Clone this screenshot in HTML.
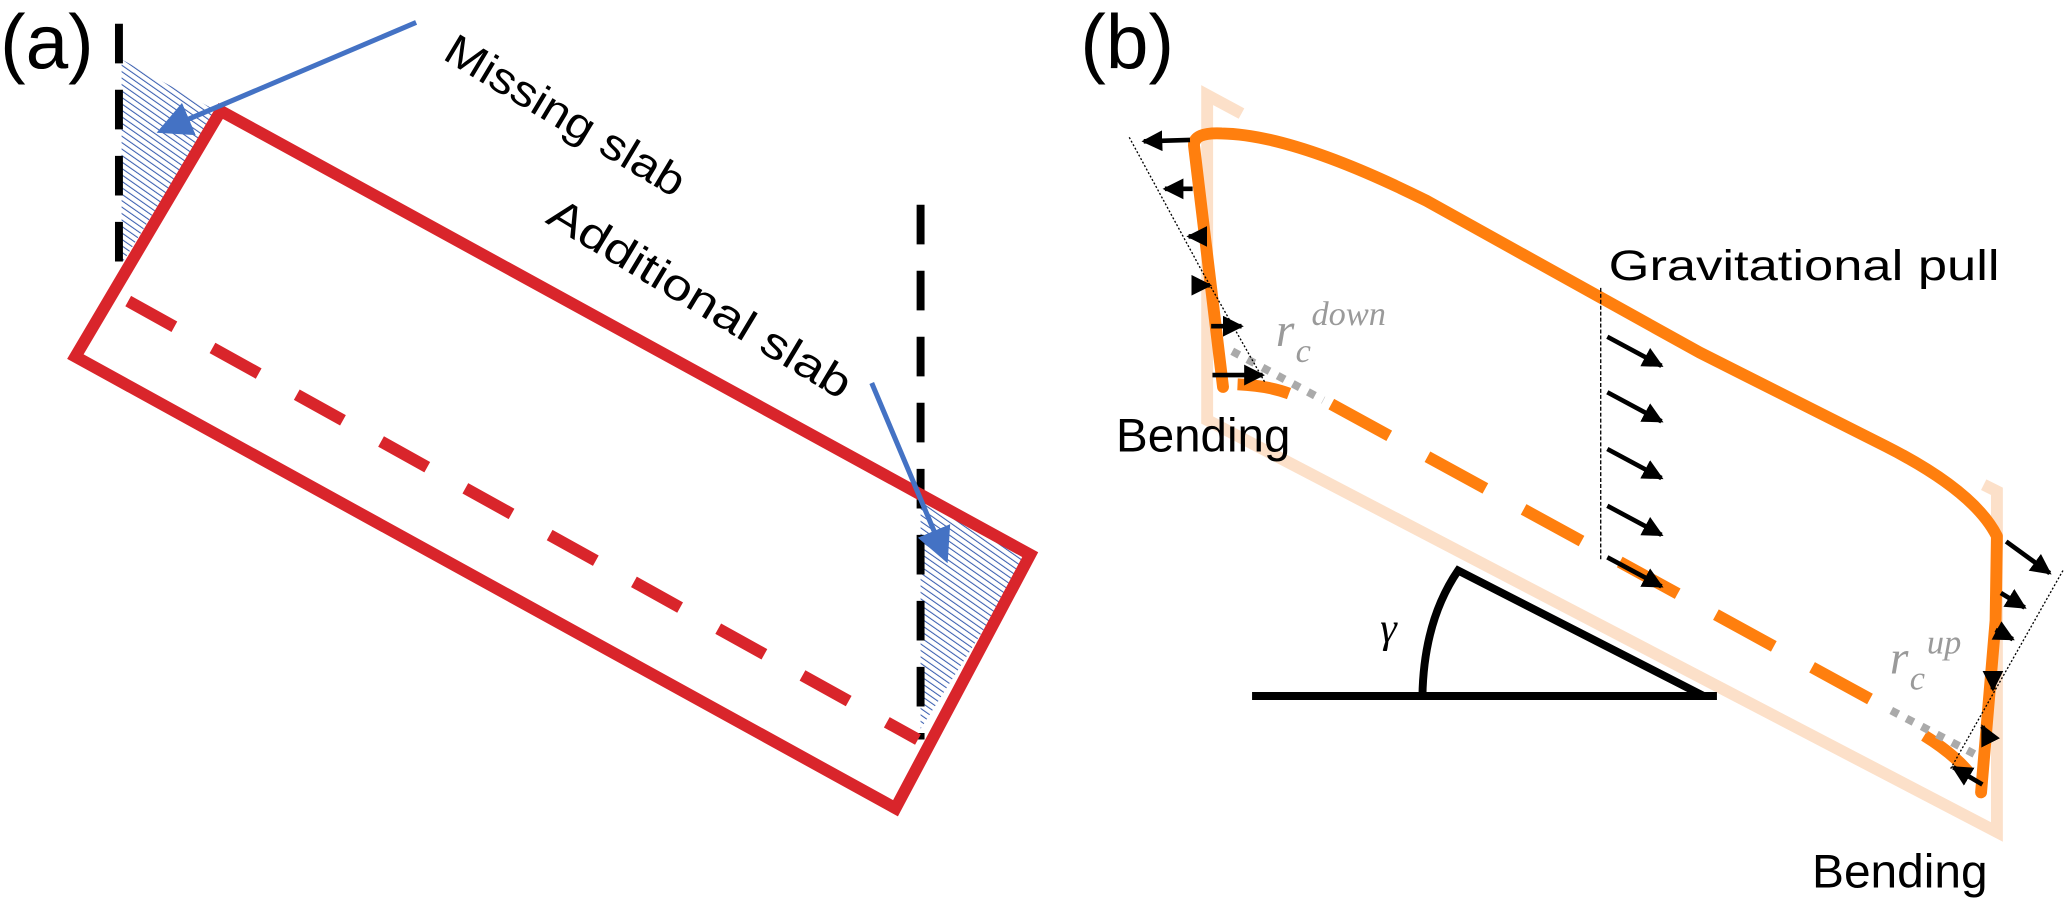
<!DOCTYPE html>
<html><head><meta charset="utf-8"><style>
html,body{margin:0;padding:0;background:#fff;}
svg{display:block;}
.s{font-family:"Liberation Sans",sans-serif;}
.m{font-family:"Liberation Serif",serif;font-style:italic;fill:#9a9a9a;}
</style></head><body>
<svg width="2067" height="902" viewBox="0 0 1565 683" xmlns="http://www.w3.org/2000/svg">
<defs>
<pattern id="hatch" patternUnits="userSpaceOnUse" width="4" height="4" patternTransform="rotate(-55)">
<rect width="4" height="4" fill="#fff"/>
<line x1="0" y1="0" x2="0" y2="4" stroke="#3b5fb0" stroke-width="1.6"/>
</pattern>
<marker id="ba" markerWidth="7" markerHeight="7" refX="6" refY="3.5" orient="auto" markerUnits="strokeWidth">
<path d="M0,0 L7,3.5 L0,7 z" fill="#4472c4"/>
</marker>
<marker id="ka" markerWidth="4.5" markerHeight="4.5" refX="4" refY="2.25" orient="auto" markerUnits="strokeWidth">
<path d="M0,0 L4.5,2.25 L0,4.5 z" fill="#000"/>
</marker>
</defs>

<!-- Panel (a) -->
<text class="s" x="0" y="52" font-size="58">(a)</text>
<polygon points="92,45 164,84 92,200" fill="url(#hatch)"/>
<polygon points="697,376 780,421 697,552" fill="url(#hatch)"/>
<line x1="90" y1="18" x2="90" y2="205" stroke="#000" stroke-width="6" stroke-dasharray="30,20"/>
<line x1="697" y1="155" x2="697" y2="560" stroke="#000" stroke-width="6" stroke-dasharray="30,20"/>
<polygon points="167,84 780,420 678,612 57,270" fill="none" stroke="#d9252b" stroke-width="9" stroke-linejoin="miter"/>
<line x1="97" y1="228" x2="695" y2="560" stroke="#d9252b" stroke-width="9" stroke-dasharray="40,33"/>
<line x1="315" y1="17" x2="122" y2="99" stroke="#4472c4" stroke-width="3.8" marker-end="url(#ba)"/>
<line x1="660" y1="290" x2="716" y2="423" stroke="#4472c4" stroke-width="3.8" marker-end="url(#ba)"/>
<text class="s" transform="translate(334,44) rotate(31)" font-size="33" textLength="206" lengthAdjust="spacingAndGlyphs">Missing slab</text>
<text class="s" transform="translate(412,168) rotate(31)" font-size="33" textLength="262" lengthAdjust="spacingAndGlyphs">Additional slab</text>

<!-- Panel (b) -->
<text class="s" x="818" y="52" font-size="58">(b)</text>
<!-- pale slab (top edge mostly hidden under orange) -->
<path d="M940,86 L914,72 L914,318 L1512,630 L1512,372 L1502,367" fill="none" stroke="#fce0c9" stroke-width="9"/>
<!-- triangle angle -->
<line x1="948" y1="527" x2="1300" y2="527" stroke="#000" stroke-width="6"/>
<path d="M1290,527 L1104,432 Q1078,470 1077,527" fill="none" stroke="#000" stroke-width="6"/>
<text x="1045" y="486" font-size="32" style="font-family:'Liberation Serif',serif;font-style:italic;">γ</text>
<!-- orange top & sides -->
<path d="M926,293 L904,110 Q904,100 925,101 Q980,102 1080,152 L1287,267 L1428,338 Q1495,372 1512,406 L1511,470 L1500,600" fill="none" stroke="#ff7f0e" stroke-width="9" stroke-linecap="round" stroke-linejoin="round"/>
<path d="M937,291 Q960,292 976,298" fill="none" stroke="#ff7f0e" stroke-width="9"/>
<line x1="1008" y1="306" x2="1430" y2="537" stroke="#ff7f0e" stroke-width="9" stroke-dasharray="50,33"/>
<path d="M1457,557 Q1478,570 1490,584" fill="none" stroke="#ff7f0e" stroke-width="9"/>
<!-- gray dotted -->
<line x1="933" y1="266" x2="1002" y2="303" stroke="#aaa" stroke-width="6" stroke-dasharray="6,7"/>
<line x1="1432" y1="538" x2="1497" y2="572" stroke="#aaa" stroke-width="6" stroke-dasharray="6,7"/>
<!-- r_c labels -->
<text class="m" x="966" y="262" font-size="36">r</text>
<text class="m" x="981" y="274" font-size="26">c</text>
<text class="m" x="993" y="246" font-size="26">down</text>
<text class="m" x="1431" y="510" font-size="36">r</text>
<text class="m" x="1446" y="522" font-size="26">c</text>
<text class="m" x="1459" y="495" font-size="26">up</text>
<!-- dotted guide lines -->
<path d="M855,104 L911,207 L958,290" fill="none" stroke="#000" stroke-width="1" stroke-dasharray="1.5,1.5"/>
<path d="M1562,432 L1477,582" fill="none" stroke="#000" stroke-width="1" stroke-dasharray="1.5,1.5"/>
<line x1="1212" y1="218" x2="1212" y2="424" stroke="#000" stroke-width="1" stroke-dasharray="3,1.5"/>
<!-- left arrows -->
<g stroke="#000" stroke-width="3.5" marker-end="url(#ka)">
<line x1="901" y1="106" x2="866" y2="107"/>
<line x1="903" y1="143" x2="882" y2="143"/>
<line x1="906" y1="179" x2="900" y2="179"/>
<line x1="906" y1="216" x2="916" y2="216"/>
<line x1="917" y1="247" x2="940" y2="247"/>
<line x1="918" y1="284" x2="956" y2="284"/>
</g>
<!-- gravitational arrows -->
<g stroke="#000" stroke-width="3.5" marker-end="url(#ka)">
<line x1="1217" y1="255" x2="1258" y2="277"/>
<line x1="1217" y1="297" x2="1258" y2="319"/>
<line x1="1217" y1="340" x2="1258" y2="362"/>
<line x1="1217" y1="383" x2="1258" y2="405"/>
<line x1="1217" y1="422" x2="1258" y2="444"/>
</g>
<!-- right arrows -->
<g stroke="#000" stroke-width="3.5" marker-end="url(#ka)">
<line x1="1519" y1="410" x2="1552" y2="434"/>
<line x1="1515" y1="449" x2="1533" y2="460"/>
<line x1="1511" y1="477" x2="1524" y2="484"/>
<line x1="1509" y1="514" x2="1509" y2="522"/>
<line x1="1504" y1="556" x2="1501" y2="550"/>
<line x1="1501" y1="594" x2="1479" y2="581"/>
</g>
<!-- text labels -->
<text class="s" x="1218" y="212" font-size="32" textLength="296" lengthAdjust="spacingAndGlyphs">Gravitational pull</text>
<text class="s" x="845" y="342" font-size="36" textLength="132" lengthAdjust="spacingAndGlyphs">Bending</text>
<text class="s" x="1372" y="672" font-size="36" textLength="133" lengthAdjust="spacingAndGlyphs">Bending</text>
</svg>
</body></html>
